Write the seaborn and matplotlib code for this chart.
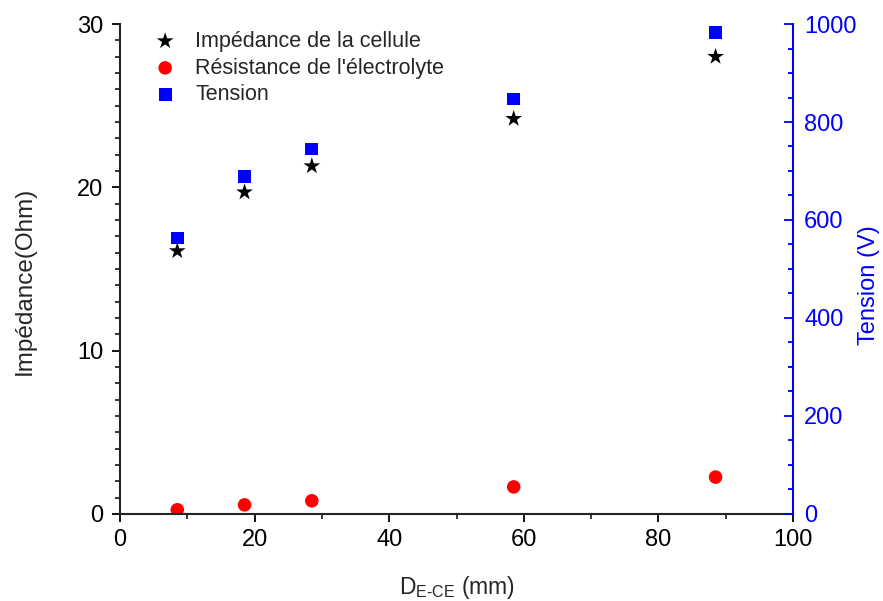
import numpy as np
import pandas as pd
import matplotlib
matplotlib.use('Agg')
import matplotlib.pyplot as plt
import seaborn as sns
from matplotlib.ticker import MultipleLocator

# Data
distance = [8.5, 18.5, 28.5, 58.5, 88.5]          # D_E-CE (mm)
impedance = [16.1, 19.7, 21.3, 24.2, 28.0]         # Impédance de la cellule (Ohm)
resistance = [0.25, 0.55, 0.8, 1.65, 2.25]         # Résistance de l'électrolyte (Ohm)
tension = [563, 688, 745, 847, 982]                # Tension (V)

df = pd.DataFrame({'distance': distance, 'impedance': impedance,
                   'resistance': resistance, 'tension': tension})

sns.set_style('ticks')
plt.rcParams['font.family'] = ['Liberation Sans', 'DejaVu Sans']
plt.rcParams['mathtext.fontset'] = 'custom'
plt.rcParams['mathtext.rm'] = 'Liberation Sans'
plt.rcParams['mathtext.it'] = 'Liberation Sans'

fig = plt.figure(figsize=(8.83, 6.01), dpi=100)
ax = fig.add_axes([0.136, 0.145, 0.762, 0.815])
ax2 = ax.twinx()

sns.scatterplot(data=df, x='distance', y='impedance', ax=ax, marker='*', s=160,
                color='black', edgecolor='none', label='Impédance de la cellule', legend=False)
sns.scatterplot(data=df, x='distance', y='resistance', ax=ax, marker='o', s=95,
                color='red', edgecolor='none', label="Résistance de l'électrolyte", legend=False)
sns.scatterplot(data=df, x='distance', y='tension', ax=ax2, marker='s', s=85,
                color='blue', edgecolor='none', label='Tension', legend=False)

ax.set_xlim(0, 100)
ax.set_ylim(0, 30)
ax2.set_ylim(0, 1000)

ax.xaxis.set_major_locator(MultipleLocator(20))
ax.xaxis.set_minor_locator(MultipleLocator(10))
ax.yaxis.set_major_locator(MultipleLocator(10))
ax.yaxis.set_minor_locator(MultipleLocator(1))
ax2.yaxis.set_major_locator(MultipleLocator(200))
ax2.yaxis.set_minor_locator(MultipleLocator(50))

ax.tick_params(axis='both', which='major', direction='out', length=6, width=1.3,
               labelsize=17, colors='black')
ax.tick_params(axis='both', which='minor', direction='out', length=3.5, width=1.3)
ax.tick_params(axis='y', which='major', pad=6)
ax.tick_params(axis='x', which='major', pad=5)
ax2.tick_params(axis='y', which='major', direction='in', length=6.5, width=1.3,
                labelsize=17, colors='blue', pad=8)
ax2.tick_params(axis='y', which='minor', direction='in', length=3.5, width=1.3, colors='blue')

for a in (ax, ax2):
    a.spines['top'].set_visible(False)
    for s in a.spines.values():
        s.set_linewidth(1.5)
ax.spines['right'].set_visible(False)
ax2.spines['left'].set_visible(False)
ax2.spines['bottom'].set_visible(False)
ax2.spines['right'].set_color('blue')

ax.set_xlabel(r'D$_{\text{E-CE}}$ (mm)', fontsize=16.5)
ax.set_ylabel('Impédance(Ohm)', fontsize=17.5)
ax2.set_ylabel('Tension (V)', fontsize=17, color='blue')
ax.xaxis.set_label_coords(0.5, -0.122)
ax.yaxis.set_label_coords(-0.126, 0.476)
ax2.yaxis.set_label_coords(1.097, 0.467)

h1, l1 = ax.get_legend_handles_labels()
h2, l2 = ax2.get_legend_handles_labels()
ax.legend(h1 + h2, l1 + l2, loc='upper left', bbox_to_anchor=(0.035, 1.004),
          frameon=False, fontsize=15.5, handlelength=1.2, handletextpad=0.8,
          labelspacing=0.27, borderaxespad=0)

fig.savefig('out.png', dpi=100)
